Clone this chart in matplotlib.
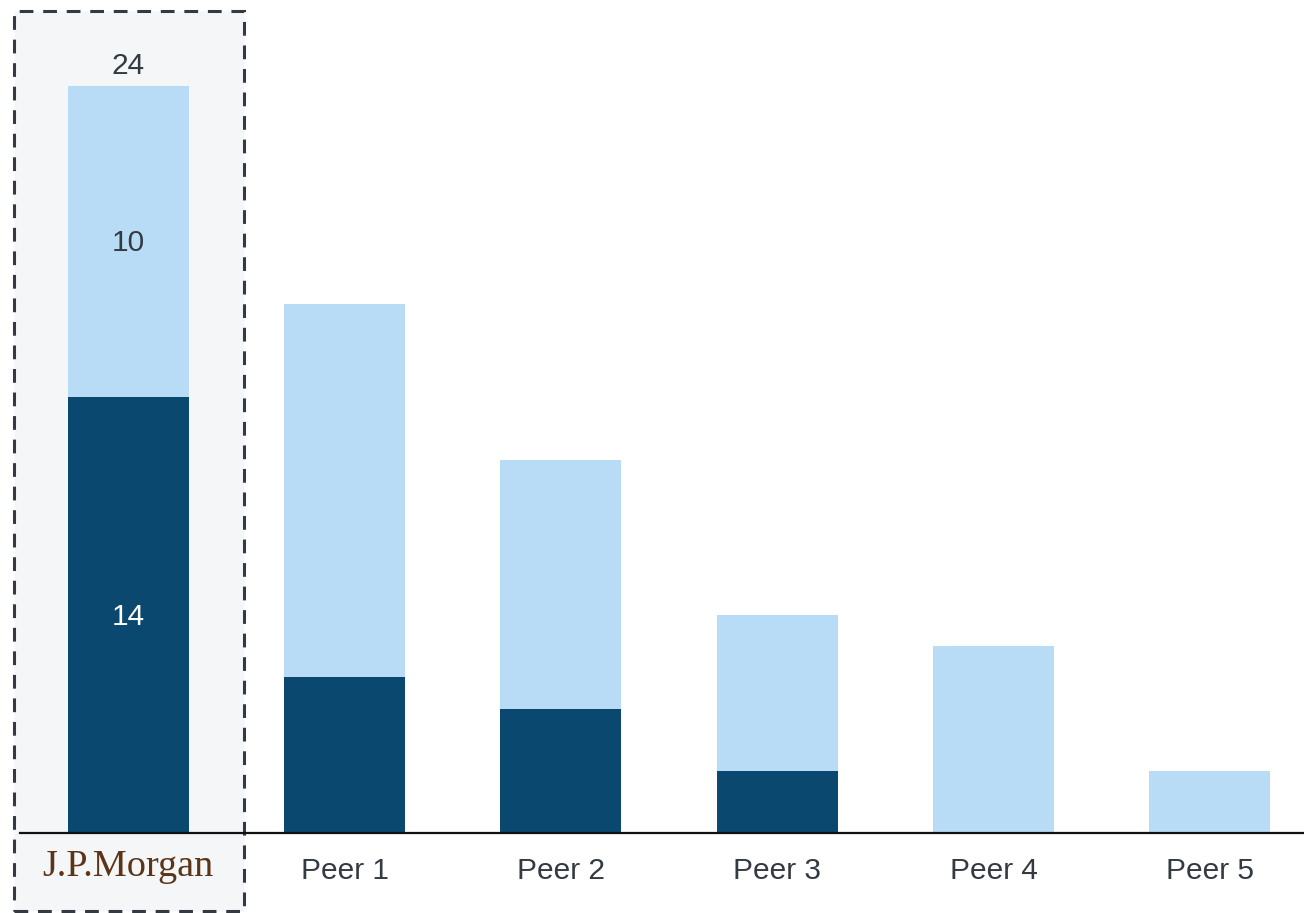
import matplotlib
matplotlib.use("Agg")
import matplotlib.pyplot as plt
from matplotlib.patches import Rectangle

categories = ["J.P.Morgan", "Peer 1", "Peer 2", "Peer 3", "Peer 4", "Peer 5"]
dark_values = [14, 5, 4, 2, 0, 0]
light_values = [10, 12, 8, 5, 6, 2]

DARK = "#0b4870"
LIGHT = "#b8dcf6"
TEXT = "#333a42"
FS = 21.5

W, H = 1304, 913
fig = plt.figure(figsize=(W / 100, H / 100), dpi=100)

# highlight panel behind the first company
panel = Rectangle((14 / W, 1 - 911 / H), 230 / W, 900 / H, transform=fig.transFigure,
                  facecolor="#f4f6f8", edgecolor=TEXT, linewidth=2.2,
                  linestyle=(0, (4.5, 3.2)), zorder=-1)
fig.patches.append(panel)

ax = fig.add_axes([20 / W, 1 - 833 / H, (W - 20) / W, 833 / H])
ax.set_facecolor("none")
ax.set_zorder(1)

x = list(range(len(categories)))
ax.bar(x, dark_values, width=0.56, color=DARK, zorder=2)
ax.bar(x, light_values, width=0.56, bottom=dark_values, color=LIGHT, zorder=2)

ax.set_xlim(-0.5, 5.435)
ax.set_ylim(0, 833 / 31.125)

for s in ["top", "right", "left"]:
    ax.spines[s].set_visible(False)
ax.spines["bottom"].set_color("#111111")
ax.spines["bottom"].set_linewidth(1.6)
ax.spines["bottom"].set_zorder(3)
ax.set_yticks([])
ax.set_xticks(x)
ax.set_xticklabels([""] + categories[1:], fontsize=FS, color=TEXT,
                   family="Liberation Sans")
ax.tick_params(axis="x", length=0, pad=17)

ax.text(0, -1.08, categories[0], ha="center", va="center", fontsize=27.5,
        color="#5c3518", family="Liberation Serif")

# value annotations for the highlighted bar
total = dark_values[0] + light_values[0]
ax.text(0, total + 0.2, f"{total}", ha="center", va="bottom", fontsize=FS,
        color=TEXT, family="Liberation Sans")
ax.text(0, dark_values[0] + light_values[0] / 2 - 0.05, f"{light_values[0]}",
        ha="center", va="center", fontsize=FS, color=TEXT,
        family="Liberation Sans", zorder=4)
ax.text(0, dark_values[0] / 2 - 0.05, f"{dark_values[0]}", ha="center", va="center",
        fontsize=FS, color="white", family="Liberation Sans", zorder=4)

fig.savefig("out.png", dpi=100)
